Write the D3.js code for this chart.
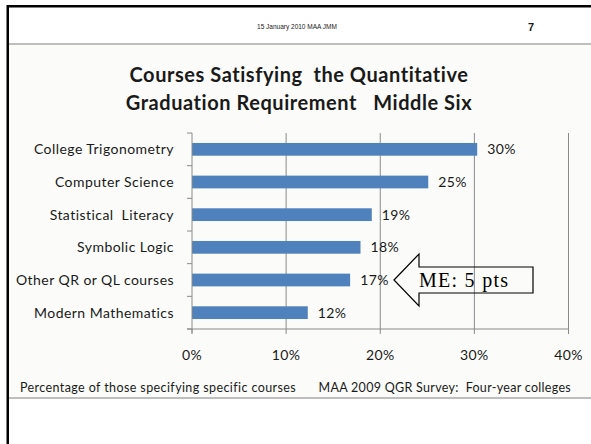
<!DOCTYPE html>
<html>
<head>
<meta charset="utf-8">
<script src="https://d3js.org/d3.v7.min.js"></script>
<style>
  body { margin: 0; background: #fff; }
  svg { display: block; }
  text { font-family: Lato, "Open Sans", sans-serif; fill: #1a1a1a; }
</style>
</head>
<body>
<script>
// chart data
var courses = ["College Trigonometry", "Computer Science", "Statistical  Literacy",
               "Symbolic Logic", "Other QR or QL courses", "Modern Mathematics"];
var percents = [30.3, 25.1, 19.1, 17.9, 16.8, 12.3];
var valueLabels = ["30%", "25%", "19%", "18%", "17%", "12%"];
var xTicks = [0, 10, 20, 30, 40];

var W = 591, H = 444;
var svg = d3.select("body").append("svg").attr("width", W).attr("height", H);

// slide frame
svg.append("rect").attr("x", 9).attr("y", 45).attr("width", W - 9).attr("height", 352).attr("fill", "#fbfcf9");
svg.append("rect").attr("x", 7).attr("y", 5).attr("width", W - 7).attr("height", 2.5).attr("fill", "#000");
svg.append("rect").attr("x", 6.5).attr("y", 5).attr("width", 2.5).attr("height", H - 5).attr("fill", "#000");
svg.append("line").attr("x1", 9).attr("x2", W).attr("y1", 44).attr("y2", 44)
   .attr("stroke", "#a8a8a8").attr("stroke-width", 1.5);
svg.append("line").attr("x1", 9).attr("x2", W).attr("y1", 398).attr("y2", 398)
   .attr("stroke", "#a8a8a8").attr("stroke-width", 1.5);

// header
svg.append("text").attr("x", 297).attr("y", 29).attr("text-anchor", "middle")
   .style("font-family", "Arial, 'Liberation Sans', sans-serif").style("font-size", "6.5px")
   .text("15 January 2010 MAA JMM");
svg.append("text").attr("x", 531).attr("y", 31).attr("text-anchor", "middle")
   .style("font-family", "Arial, 'Liberation Sans', sans-serif").style("font-size", "11px")
   .style("font-weight", "bold").text("7");

// title
svg.append("text").attr("x", 299).attr("y", 82).attr("text-anchor", "middle")
   .style("font-size", "20px").style("font-weight", "bold").style("letter-spacing", "0.55px")
   .attr("xml:space", "preserve")
   .text("Courses Satisfying  the Quantitative");
svg.append("text").attr("x", 299).attr("y", 110).attr("text-anchor", "middle")
   .style("font-size", "20px").style("font-weight", "bold").style("letter-spacing", "0.55px")
   .attr("xml:space", "preserve")
   .text("Graduation Requirement   Middle Six");

// scales
var x = d3.scaleLinear().domain([0, 40]).range([192, 568.5]);
var y = d3.scaleBand().domain(courses).range([133, 329]).paddingInner(0.61).paddingOuter(0.305);

// gridlines
svg.append("g").selectAll("line").data(xTicks.slice(1)).join("line")
   .attr("x1", d => x(d)).attr("x2", d => x(d))
   .attr("y1", 133).attr("y2", 329)
   .attr("stroke", "#8a8a8a").attr("stroke-width", 1);

// bars
svg.append("g").selectAll("rect").data(percents).join("rect")
   .attr("x", x(0))
   .attr("y", (d, i) => y(courses[i]))
   .attr("width", d => x(d) - x(0))
   .attr("height", y.bandwidth())
   .attr("fill", "#4f81bd");

// value labels
svg.append("g").selectAll("text").data(percents).join("text")
   .attr("x", d => x(d) + 10)
   .attr("y", (d, i) => y(courses[i]) + y.bandwidth() / 2 + 5)
   .style("font-size", "14px").style("letter-spacing", "0.4px")
   .text((d, i) => valueLabels[i]);

// category axis
var bandEdges = courses.map(c => y(c) - y.step() * y.paddingInner() / 2);
bandEdges.push(329);
var yAxis = svg.append("g");
yAxis.append("line").attr("x1", 192).attr("x2", 192).attr("y1", 133).attr("y2", 333)
   .attr("stroke", "#8a8a8a");
yAxis.selectAll("line.tk").data(bandEdges).join("line").attr("class", "tk")
   .attr("x1", 187).attr("x2", 192).attr("y1", d => d).attr("y2", d => d)
   .attr("stroke", "#8a8a8a");
yAxis.selectAll("text").data(courses).join("text")
   .attr("x", 174).attr("y", c => y(c) + y.bandwidth() / 2 + 5)
   .attr("text-anchor", "end").attr("xml:space", "preserve")
   .style("font-size", "14px").style("letter-spacing", "0.45px").text(c => c);

// percent axis
var xAxis = svg.append("g");
xAxis.append("line").attr("x1", 187).attr("x2", 568.5).attr("y1", 329).attr("y2", 329)
   .attr("stroke", "#8a8a8a");
xAxis.selectAll("line.tk").data(xTicks).join("line").attr("class", "tk")
   .attr("x1", d => x(d)).attr("x2", d => x(d)).attr("y1", 329).attr("y2", 334)
   .attr("stroke", "#8a8a8a");
xAxis.selectAll("text").data(xTicks).join("text")
   .attr("x", d => x(d)).attr("y", 360).attr("text-anchor", "middle")
   .style("font-size", "14px").style("letter-spacing", "0.4px").text(d => d + "%");

// footer notes
svg.append("text").attr("x", 20).attr("y", 392).style("font-size", "12.5px")
   .style("letter-spacing", "0.4px")
   .text("Percentage of those specifying specific courses");
svg.append("text").attr("x", 571).attr("y", 392).attr("text-anchor", "end")
   .attr("xml:space", "preserve").style("font-size", "12.5px").style("letter-spacing", "0.3px")
   .text("MAA 2009 QGR Survey:  Four-year colleges");

// ME callout arrow
var tipY = y(courses[4]) + y.bandwidth() / 2;
var arrow = [[394, tipY], [419, tipY - 26], [419, tipY - 13], [533, tipY - 13],
             [533, tipY + 13], [419, tipY + 13], [419, tipY + 26]];
svg.append("path").attr("d", d3.line()(arrow) + "Z")
   .attr("fill", "none").attr("stroke", "#000").attr("stroke-width", 1.2);
svg.append("text").attr("x", 419).attr("y", tipY + 6.5)
   .attr("textLength", 89).attr("lengthAdjust", "spacing")
   .style("font-family", "'Liberation Serif', 'Times New Roman', serif")
   .style("font-size", "20px").style("fill", "#000")
   .text("ME: 5 pts");
</script>
</body>
</html>
